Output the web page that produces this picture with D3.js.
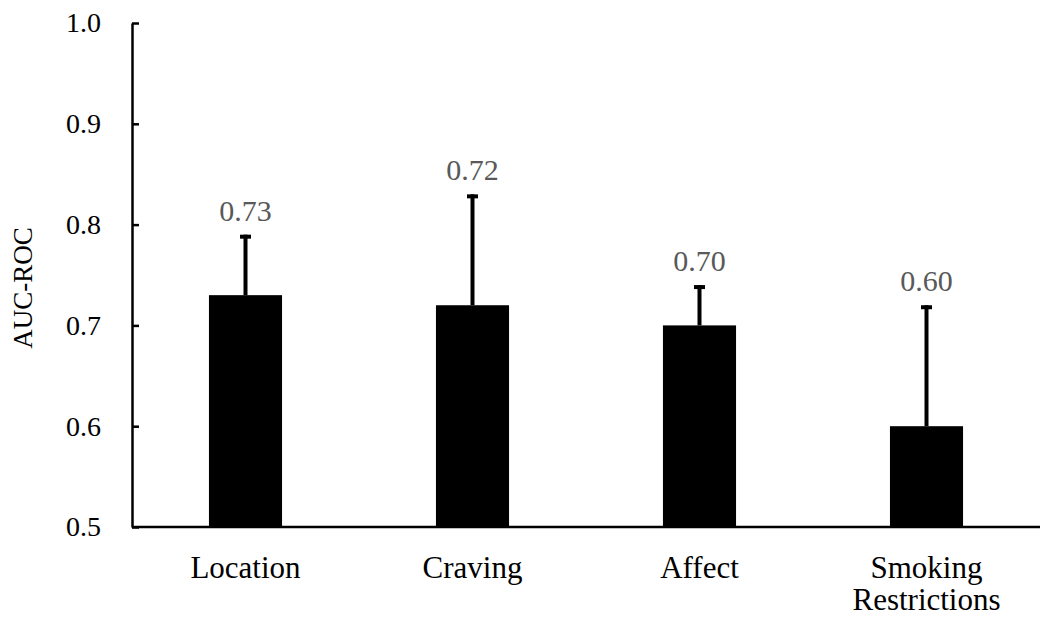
<!DOCTYPE html>
<html><head><meta charset="utf-8">
<script src="https://cdn.jsdelivr.net/npm/d3@7"></script>
<style>body{margin:0;background:#fff}svg{display:block}text{font-family:"Liberation Serif","Times New Roman",serif}</style>
</head><body>
<svg id="c" width="1050" height="621"></svg>
<script>
const categories = ["Location", "Craving", "Affect", "Smoking\nRestrictions"];
const values = [0.73, 0.72, 0.70, 0.60];
const upperErr = [0.79, 0.83, 0.74, 0.72];
const valueLabels = ["0.73", "0.72", "0.70", "0.60"];
const yTicks = [0.5, 0.6, 0.7, 0.8, 0.9, 1.0];
const yTitle = "AUC-ROC";

const svg = d3.select("#c");
const x = d3.scaleBand().domain(categories).range([132, 1040]).paddingInner(0.678).paddingOuter(0.339);
const y = d3.scaleLinear().domain([0.5, 1.0]).range([527, 23]);

// bars
svg.selectAll("rect.bar").data(categories).join("rect")
  .attr("x", d => x(d)).attr("width", x.bandwidth())
  .attr("y", (d, i) => y(values[i])).attr("height", (d, i) => y(0.5) - y(values[i]))
  .attr("fill", "#000");

// error bars
const cx = d => x(d) + x.bandwidth() / 2;
svg.selectAll("line.err").data(categories).join("line")
  .attr("x1", cx).attr("x2", cx)
  .attr("y1", (d, i) => y(values[i])).attr("y2", (d, i) => y(upperErr[i]))
  .attr("stroke", "#000").attr("stroke-width", 4);
svg.selectAll("line.cap").data(categories).join("line")
  .attr("x1", d => cx(d) - 5.5).attr("x2", d => cx(d) + 5.5)
  .attr("y1", (d, i) => y(upperErr[i]) + 2).attr("y2", (d, i) => y(upperErr[i]) + 2)
  .attr("stroke", "#000").attr("stroke-width", 4);

// value labels
svg.selectAll("text.val").data(categories).join("text")
  .attr("x", cx).attr("y", (d, i) => y(upperErr[i]) - 14)
  .attr("text-anchor", "middle").attr("font-size", 30).attr("fill", "#595959")
  .text((d, i) => valueLabels[i]);

// y axis
const yAxis = d3.axisLeft(y).tickValues(yTicks).tickFormat(d3.format(".1f")).tickSizeInner(-7).tickSizeOuter(0).tickPadding(31);
const gy = svg.append("g").attr("transform", "translate(132,0)").call(yAxis);
gy.attr("font-size", null).attr("font-family", null);
gy.select(".domain").attr("stroke", "#000").attr("stroke-width", 2.5);
gy.selectAll(".tick line").attr("stroke", "#000").attr("stroke-width", 2.5);
gy.selectAll(".tick text").attr("font-size", 28).attr("fill", "#000");

// x axis
const gx = svg.append("g").attr("transform", "translate(0,527)");
gx.append("line").attr("x1", 132).attr("x2", 1040).attr("stroke", "#000").attr("stroke-width", 2.5);
gx.selectAll("text").data(categories).join("text")
  .attr("text-anchor", "middle").attr("font-size", 31).attr("fill", "#000")
  .attr("transform", d => `translate(${cx(d)},51)`)
  .each(function(d) {
    const lines = d.split("\n");
    d3.select(this).selectAll("tspan").data(lines).join("tspan")
      .attr("x", 0).attr("dy", (l, j) => j === 0 ? 0 : 32).text(l => l);
  });

// y title
svg.append("text").attr("transform", "translate(32,288) rotate(-90)")
  .attr("text-anchor", "middle").attr("font-size", 27).attr("fill", "#000").text(yTitle);
</script>
</body></html>
